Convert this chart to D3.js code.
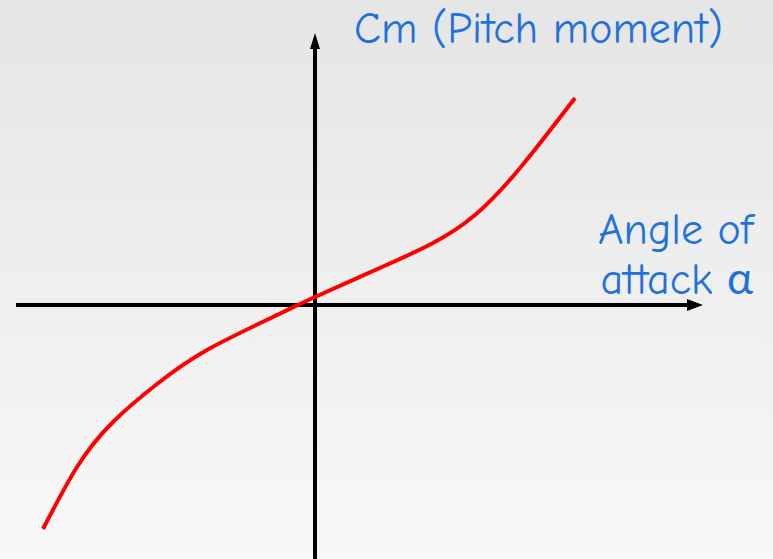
<!DOCTYPE html>
<html>
<head>
<meta charset="utf-8">
<script src="https://cdn.jsdelivr.net/npm/d3@7"></script>
<style>
  body { margin: 0; }
  svg { display: block; }
</style>
</head>
<body>
<svg id="chart" width="773" height="559"></svg>
<script>
// curve (alpha, Cm) in arbitrary units
var alpha = [-13.6, -11.9, -10.1, -7.9, -5.4, -2.1, 0, 3.35, 5.9, 8.0, 10.25, 13.0];
var cm    = [-11.2, -8.1, -5.85, -3.95, -2.25, -0.6, 0.4, 1.9, 3.1, 4.5, 6.85, 10.35];

var yTitle = "Cm (Pitch moment)";
var xTitle = ["Angle of", "attack \u03b1"];

var svg = d3.select("#chart");
var W = 773, H = 559;

var defs = svg.append("defs");
var grad = defs.append("linearGradient")
  .attr("id", "bg").attr("x1", 0).attr("y1", 0).attr("x2", 0).attr("y2", 1);
grad.append("stop").attr("offset", "0%").attr("stop-color", "#e5e5e5");
grad.append("stop").attr("offset", "100%").attr("stop-color", "#f8f8f8");

svg.append("rect").attr("width", W).attr("height", H).attr("fill", "url(#bg)");

var x = d3.scaleLinear().domain([-15, 20]).range([15, 715]);
var y = d3.scaleLinear().domain([-12.7, 13.5]).range([559, 35]);

// axes
var x0 = x(0), y0 = y(0);
svg.append("line")
  .attr("x1", 16).attr("x2", 690)
  .attr("y1", y0).attr("y2", y0)
  .attr("stroke", "#000").attr("stroke-width", 4);
svg.append("path")
  .attr("d", "M" + 703 + "," + y0 + "L" + 687 + "," + (y0 - 6) + "L" + 687 + "," + (y0 + 6) + "Z")
  .attr("fill", "#000");

svg.append("line")
  .attr("x1", x0).attr("x2", x0)
  .attr("y1", H).attr("y2", 46)
  .attr("stroke", "#000").attr("stroke-width", 4);
svg.append("path")
  .attr("d", "M" + x0 + "," + 33 + "L" + (x0 - 5) + "," + 49 + "L" + (x0 + 5) + "," + 49 + "Z")
  .attr("fill", "#000");

// curve
var pts = alpha.map(function(a, i) { return [a, cm[i]]; });
var line = d3.line()
  .x(function(d) { return x(d[0]); })
  .y(function(d) { return y(d[1]); })
  .curve(d3.curveNatural);

svg.append("path")
  .datum(pts)
  .attr("d", line)
  .attr("fill", "none")
  .attr("stroke", "#ff0000")
  .attr("stroke-width", 4);

// labels
var font = "'Comic Sans MS', 'Comic Neue', Lato, 'DejaVu Sans', sans-serif";
var blue = "#1f72dc";

svg.append("text")
  .attr("x", 723).attr("y", 43)
  .attr("text-anchor", "end")
  .attr("font-family", font)
  .attr("font-size", 44)
  .attr("fill", blue)
  .text(yTitle);

svg.selectAll(".xt")
  .data(xTitle)
  .enter()
  .append("text")
  .attr("class", "xt")
  .attr("x", 753)
  .attr("y", function(d, i) { return 244 + i * 50; })
  .attr("text-anchor", "end")
  .attr("font-family", font)
  .attr("font-size", 44)
  .attr("fill", blue)
  .text(function(d) { return d; });
</script>
</body>
</html>
